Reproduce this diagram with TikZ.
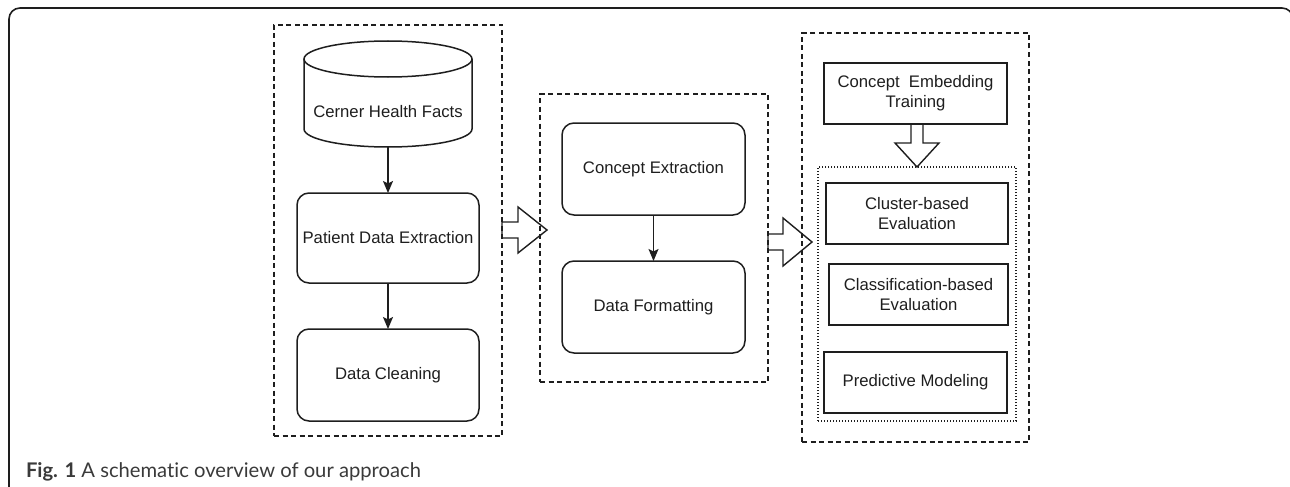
\documentclass[tikz,border=0pt]{standalone}
\usepackage{fontspec}
\setmainfont{Liberation Sans}
\newfontfamily\capfont[Ligatures=NoCommon]{Lato}
\usetikzlibrary{arrows.meta}
\definecolor{ink}{HTML}{1E1E1E}
\definecolor{capgray}{HTML}{3A3A3A}
\begin{document}
\begin{tikzpicture}[x=1pt,y=-1pt,
  every node/.style={inner sep=0pt, outer sep=0pt, text=ink},
  lbl/.style={font=\fontsize{16.7}{20}\selectfont, align=center},
  rbox/.style={lbl, draw=ink, line width=1.5pt, rounded corners=12pt},
  sbox/.style={lbl, draw=ink, line width=1.5pt},
  group/.style={draw=ink, line width=1.2pt, dash pattern=on 5pt off 3.5pt},
  dotgroup/.style={draw=ink, line width=1.1pt, dash pattern=on 1pt off 2pt},
  conn/.style={draw=ink, line width=1.5pt, -{Stealth[length=12pt,width=10pt,inset=2.5pt]}},
  blockarrow/.style={draw=ink, line width=1.4pt, line join=miter},
  frame/.style={draw=ink, line width=1.6pt, rounded corners=11pt}
]
\useasboundingbox (0,0) rectangle (1290,487);
\draw[frame] (9,8) rectangle (1293,498);

% group boxes
\node[group, minimum width=228pt, minimum height=411pt] (g1) at (388,230.5) {};
\node[group, minimum width=228pt, minimum height=288pt] (g2) at (654,238) {};
\node[group, minimum width=227pt, minimum height=409pt] (g3) at (915.5,237.5) {};
\node[dotgroup, minimum width=198pt, minimum height=254pt] (g4) at (917,294) {};

% cylinder
\draw[draw=ink, line width=1.5pt] (304,59) -- (304,129) arc[start angle=180, end angle=360, x radius=84, y radius=-18] -- (472,59);
\draw[draw=ink, line width=1.5pt] (388,59) ellipse[x radius=84, y radius=18];
\node[lbl, minimum width=168pt, minimum height=70pt] (chf) at (388,112) {Cerner Health Facts};

\node[rbox, minimum width=182pt, minimum height=90pt] (pde) at (388,238) {Patient Data Extraction};
\node[rbox, minimum width=182pt, minimum height=92pt] (dc) at (388,375) {Data Cleaning};
\node[rbox, minimum width=183pt, minimum height=92pt] (ce) at (653.5,169) {Concept Extraction};
\node[rbox, minimum width=183pt, minimum height=92pt] (df) at (653.5,307) {Data Formatting};

\node[sbox, minimum width=183pt, minimum height=61pt] (cet) at (915.5,93.5) {Concept\ \ Embedding\\Training};
\node[sbox, minimum width=182pt, minimum height=61pt] (cbe) at (917,213.5) {Cluster-based\\Evaluation};
\node[sbox, minimum width=179pt, minimum height=61pt] (cle) at (918.5,294.5) {Classification-based\\Evaluation};
\node[sbox, minimum width=183pt, minimum height=61pt] (pm) at (915.5,382.5) {Predictive Modeling};

\draw[conn] (chf.south) -- (pde.north);
\draw[conn] (pde.south) -- (dc.north);
\draw[conn] (ce.south) -- (df.north);

% block arrows
\draw[blockarrow] (502,222) -- (518,222) -- (518,207) -- (547,230) -- (518,253) -- (518,238) -- (502,238) -- cycle;
\draw[blockarrow] (768,234) -- (783,234) -- (783,218) -- (812,242) -- (783,266) -- (783,250) -- (768,250) -- cycle;
\draw[blockarrow] (911,124) -- (911,143) -- (895,143) -- (917,167) -- (939,143) -- (923,143) -- (923,124);

\node[anchor=base west, text=capgray, font=\capfont\fontsize{20.2}{24}\selectfont] (cap) at (26,477) {\textbf{Fig. 1} A schematic overview of our approach};
\end{tikzpicture}
\end{document}
